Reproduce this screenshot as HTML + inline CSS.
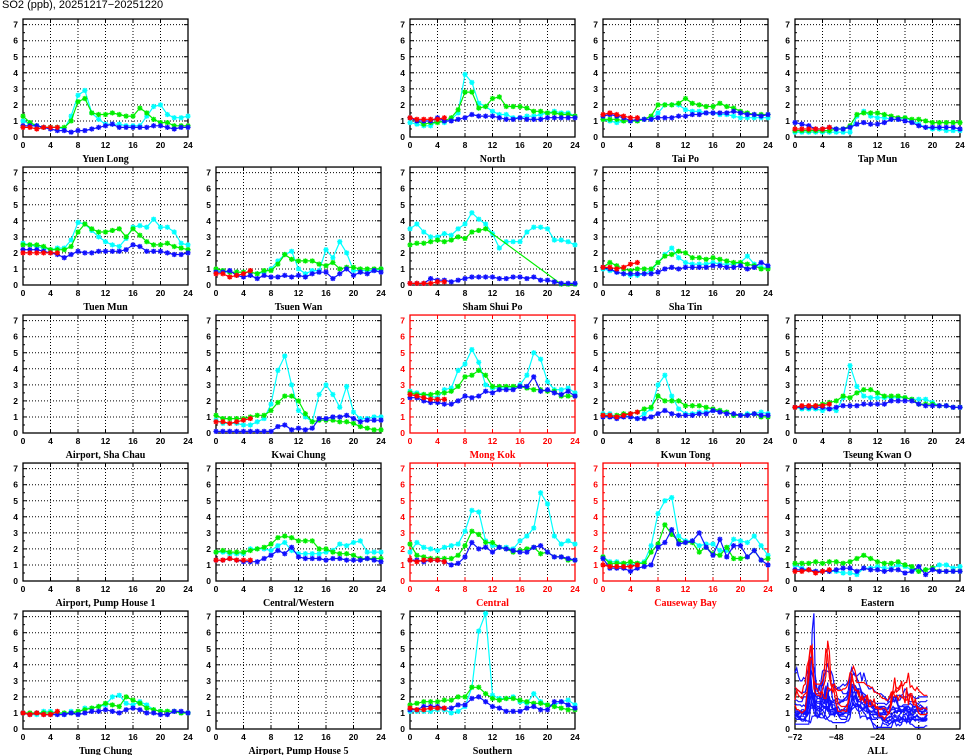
<!DOCTYPE html>
<html><head><meta charset="utf-8">
<style>
html,body{margin:0;padding:0;background:#fff;}
#wrap{position:relative;width:965px;height:755px;overflow:hidden;background:#fff;}
#title{position:absolute;left:2px;top:-1px;font:11px "Liberation Sans",sans-serif;color:#000;}
svg text{font-family:"Liberation Sans",sans-serif;}
</style></head>
<body>
<div id="wrap">
<div id="title">SO2 (ppb), 20251217&#8722;20251220</div>
<svg id="chart" width="965" height="755" xmlns="http://www.w3.org/2000/svg"></svg>
</div>
<script>
// ---- data ----
const stationNames = ["Yuen Long","North","Tai Po","Tap Mun","Tuen Mun","Tsuen Wan","Sham Shui Po","Sha Tin","Airport, Sha Chau","Kwai Chung","Mong Kok","Kwun Tong","Tseung Kwan O","Airport, Pump House 1","Central/Western","Central","Causeway Bay","Eastern","Tung Chung","Airport, Pump House 5","Southern"];
const stationRow = [0,0,0,0,1,1,1,1,2,2,2,2,2,3,3,3,3,3,4,4,4];
const stationCol = [0,2,3,4,0,1,2,3,0,1,2,3,4,0,1,2,3,4,0,1,2];
const stationAlert = [0,0,0,0,0,0,0,0,0,0,1,0,0,0,0,1,1,0,0,0,0];
const xTicks = [0,4,8,12,16,20,24];
const yTicks = [0,1,2,3,4,5,6,7];
const allXTicks = [-72,-48,-24,0,24];
const allXTickLabels = ["\u221272","\u221248","\u221224","0","24"];

const cyanSeries = [
[1.0,0.8,0.7,0.6,0.6,0.6,0.5,1.3,2.6,2.9,1.5,1.1,0.8,0.8,0.8,0.7,0.7,0.7,1.3,1.9,2.0,1.4,1.2,1.2,1.3],
[0.9,0.8,0.7,0.7,1.0,0.9,1.1,1.5,3.9,3.4,2.1,1.9,1.6,1.4,1.4,1.2,1.2,1.3,1.3,1.4,1.5,1.6,1.5,1.5,1.3],
[1.1,1.0,0.9,1.0,1.0,1.0,1.1,1.1,1.5,2.0,2.0,2.0,1.7,1.6,1.6,1.5,1.5,1.4,1.4,1.3,1.2,1.2,1.2,1.2,1.2],
[0.3,0.3,0.3,0.3,0.3,0.3,0.3,0.3,0.3,1.3,1.6,1.3,1.2,1.2,1.1,1.1,1.2,1.0,0.8,0.6,0.5,0.5,0.4,0.4,0.4],
[2.6,2.5,2.4,2.3,2.2,2.3,2.3,2.8,3.9,3.8,3.4,3.0,2.7,2.5,2.4,2.9,3.6,3.7,3.6,4.1,3.6,3.6,3.3,2.6,2.5],
[0.9,0.8,0.8,0.8,0.8,0.8,0.7,0.8,1.0,1.5,1.9,2.1,1.0,0.7,0.9,0.9,2.2,1.7,2.7,2.0,0.9,0.9,0.9,0.9,1.0],
[3.5,3.8,3.3,3.0,3.0,3.2,3.1,3.5,3.8,4.5,4.1,3.8,3.2,2.3,2.7,2.7,2.7,3.3,3.6,3.6,3.5,2.8,2.8,2.7,2.5],
[1.0,0.9,0.8,0.7,0.6,0.6,0.7,0.9,1.4,1.9,2.3,1.7,1.4,1.3,1.3,1.3,1.4,1.3,1.3,1.3,1.4,1.8,1.3,1.1,1.1],
[],
[0.8,0.6,0.6,0.6,0.5,0.5,0.7,0.9,1.8,3.9,4.8,3.0,1.4,1.0,0.7,2.4,3.0,2.4,1.6,2.9,1.3,0.9,0.9,1.0,1.0],
[2.6,2.5,2.4,2.3,2.2,2.7,2.8,3.9,4.3,5.2,4.4,3.0,2.8,2.8,2.8,2.8,3.0,3.6,5.0,4.6,3.2,2.7,2.7,2.8,2.5],
[1.2,1.2,1.0,1.1,1.0,0.9,1.2,1.5,3.0,3.6,2.3,1.5,1.2,1.2,1.3,1.3,1.4,1.4,1.3,1.1,1.1,1.2,1.2,1.3,1.2],
[1.6,1.5,1.5,1.5,1.4,1.5,1.4,2.2,4.2,2.9,2.3,2.2,2.2,2.2,2.2,2.2,2.2,2.1,2.1,2.1,1.9,1.7,1.7,1.6,1.6],
[],
[1.8,1.8,1.7,1.7,1.7,2.0,2.0,2.0,1.9,2.2,2.4,1.9,1.7,1.7,1.7,1.7,1.8,1.9,2.3,2.2,2.4,2.5,1.8,1.8,1.8],
[1.8,2.4,2.1,2.0,1.9,2.1,2.2,2.3,3.1,4.4,4.3,2.5,2.2,2.1,2.1,2.0,2.5,2.8,3.3,5.5,4.8,2.8,2.3,2.5,2.3],
[1.5,1.2,1.2,1.1,1.0,1.1,1.2,2.2,4.2,5.0,5.2,2.8,2.5,2.5,2.2,2.3,2.3,1.9,1.9,2.6,2.5,2.4,2.8,2.2,1.6],
[1.0,0.8,0.7,0.6,0.6,0.6,0.6,0.5,0.5,0.4,0.8,0.8,0.9,0.8,0.8,1.0,0.9,0.7,0.6,0.7,0.8,1.0,1.0,0.8,0.9],
[1.0,0.9,0.9,1.1,1.1,1.0,0.9,1.1,1.0,1.3,1.3,1.4,1.5,2.0,2.1,1.6,1.5,1.7,1.5,1.2,1.1,1.1,1.1,1.0,1.0],
[],
[1.1,1.1,1.1,1.1,1.2,1.2,1.0,1.1,1.4,2.6,6.1,7.2,2.1,1.9,1.9,2.0,1.7,1.6,2.2,1.7,1.5,1.5,1.7,1.8,1.5]
];
const greenSeries = [
[1.3,0.9,0.7,0.6,0.6,0.6,0.6,1.0,2.2,2.4,1.5,1.4,1.4,1.5,1.4,1.3,1.3,1.8,1.5,1.1,0.9,0.9,0.7,0.7,0.7],
[1.2,1.0,0.8,0.9,0.9,1.0,1.2,1.7,2.8,2.8,1.8,1.9,2.4,2.5,1.9,1.9,1.9,1.8,1.6,1.6,1.5,1.5,1.4,1.4,1.3],
[1.1,1.1,1.1,1.0,1.0,1.0,1.1,1.3,2.0,2.0,2.0,2.1,2.4,2.1,2.0,1.9,1.9,2.1,1.9,1.8,1.6,1.5,1.4,1.4,1.4],
[0.4,0.4,0.4,0.4,0.4,0.4,0.5,0.5,0.7,1.4,1.5,1.5,1.5,1.4,1.3,1.2,1.2,1.1,1.1,1.0,0.9,0.9,0.9,0.9,0.9],
[2.5,2.5,2.5,2.4,2.2,2.2,2.2,2.4,3.3,3.8,3.5,3.3,3.3,3.4,3.5,3.0,3.5,3.1,2.7,2.5,2.5,2.6,2.4,2.3,2.2],
[1.0,0.9,0.8,0.8,0.8,0.8,0.7,0.9,0.9,1.3,1.9,1.6,1.5,1.5,1.5,1.3,1.2,1.4,1.0,1.1,1.1,1.0,1.0,1.0,1.0],
[2.5,2.6,2.6,2.7,2.8,2.7,2.8,3.0,2.9,3.3,3.4,3.5,null,null,null,null,null,null,null,null,null,null,0.05,0.05,0.05],
[1.1,1.4,1.2,1.0,0.9,1.0,1.0,1.0,1.4,1.8,1.9,2.1,2.0,1.7,1.7,1.6,1.7,1.6,1.5,1.4,1.4,1.3,1.2,1.0,1.0],
[],
[1.1,0.9,0.9,0.9,0.9,1.0,1.1,1.1,1.4,1.9,2.3,2.3,2.0,1.2,0.7,0.8,0.8,0.8,0.7,0.7,0.6,0.4,0.3,0.2,0.2],
[2.5,2.4,2.4,2.4,2.5,2.5,2.6,2.9,3.5,3.6,3.9,3.6,2.9,2.9,2.9,2.9,2.9,2.8,2.7,2.7,2.6,2.6,2.3,2.3,2.3],
[1.1,1.0,1.1,1.2,1.2,1.3,1.5,1.6,2.3,2.0,2.0,2.0,1.7,1.7,1.7,1.6,1.5,1.4,1.3,1.1,1.1,1.1,1.2,1.0,1.0],
[1.6,1.6,1.6,1.7,1.8,1.9,2.0,2.3,2.2,2.5,2.7,2.7,2.5,2.3,2.3,2.3,2.2,2.1,1.8,1.8,1.8,1.7,1.7,1.6,1.6],
[],
[1.8,1.9,1.8,1.8,1.8,1.9,2.0,2.1,2.3,2.7,2.8,2.7,2.5,2.5,2.5,2.0,2.0,1.8,1.7,1.7,1.6,1.4,1.4,1.4,1.4],
[2.3,1.6,1.5,1.4,1.4,1.4,1.4,1.6,2.2,3.1,2.9,2.4,2.4,2.1,2.0,1.8,1.9,2.0,2.1,1.7,1.8,1.5,1.5,1.3,1.3],
[1.5,1.1,1.1,1.1,1.2,1.1,1.1,1.8,2.3,3.5,2.9,2.5,2.4,2.4,1.8,2.1,1.7,1.6,2.1,1.4,1.4,1.5,1.9,1.3,1.4],
[1.1,1.1,1.1,1.2,1.1,1.2,1.2,1.1,1.2,1.4,1.6,1.4,1.2,1.1,1.1,1.2,1.0,0.9,0.6,0.7,0.8,0.6,0.6,0.6,0.6],
[1.0,1.0,1.0,1.0,1.0,1.0,1.0,1.0,1.1,1.2,1.3,1.4,1.6,1.5,1.4,2.0,1.8,1.6,1.3,1.2,1.1,1.1,1.1,1.0,1.0],
[],
[1.5,1.6,1.7,1.7,1.7,1.8,1.8,2.0,2.0,2.6,2.6,2.2,1.9,1.8,1.9,1.9,1.8,1.7,1.6,1.6,1.5,1.4,1.3,1.2,1.2]
];
const blueSeries = [
[0.7,0.7,0.7,0.6,0.5,0.4,0.4,0.3,0.4,0.4,0.5,0.6,0.7,0.8,0.6,0.6,0.6,0.6,0.6,0.7,0.7,0.6,0.5,0.6,0.6],
[1.2,1.0,1.0,1.0,1.2,1.0,1.0,1.1,1.2,1.4,1.3,1.3,1.3,1.2,1.1,1.1,1.2,1.1,1.1,1.1,1.2,1.2,1.2,1.2,1.2],
[1.3,1.4,1.3,1.2,1.0,1.1,1.1,1.1,1.2,1.2,1.2,1.3,1.3,1.4,1.4,1.5,1.5,1.5,1.5,1.6,1.5,1.4,1.4,1.3,1.4],
[0.9,0.8,0.7,0.5,0.5,0.6,0.5,0.5,0.6,0.8,0.9,0.8,0.8,0.9,1.1,1.1,1.0,0.9,0.7,0.6,0.6,0.6,0.6,0.6,0.5],
[2.2,2.2,2.2,2.1,2.0,1.9,1.7,1.9,2.1,2.0,2.0,2.1,2.1,2.1,2.1,2.2,2.5,2.4,2.1,2.1,2.1,2.0,1.9,1.9,2.0],
[0.8,0.8,0.9,0.6,0.5,0.6,0.4,0.6,0.5,0.5,0.6,0.5,0.6,0.5,0.7,0.8,0.8,0.4,0.7,1.0,0.6,0.8,0.7,0.9,0.8],
[0.1,0.1,0.1,0.4,0.3,0.3,0.2,0.3,0.4,0.5,0.5,0.5,0.5,0.4,0.4,0.5,0.5,0.4,0.5,0.3,0.3,0.2,0.1,0.1,0.1],
[1.1,1.0,0.8,0.7,0.7,0.7,0.7,0.7,0.8,1.0,1.1,1.0,1.1,1.1,1.1,1.1,1.2,1.2,1.1,1.1,1.2,1.0,1.1,1.4,1.2],
[],
[0.1,0.1,0.1,0.1,0.1,0.1,0.1,0.1,0.1,0.4,0.5,0.2,0.3,0.2,0.3,0.9,0.9,1.0,1.0,1.1,0.9,0.7,0.8,0.8,0.8],
[2.2,2.2,2.0,1.9,1.9,1.8,1.8,2.0,2.3,2.2,2.3,2.6,2.5,2.7,2.7,2.7,2.9,2.9,3.5,2.6,2.7,2.5,2.4,2.6,2.3],
[1.0,1.0,0.9,1.0,1.0,0.9,0.9,1.0,1.2,1.4,1.2,1.1,1.1,1.1,1.2,1.2,1.4,1.3,1.2,1.2,1.1,1.1,1.2,1.1,1.1],
[1.6,1.6,1.6,1.6,1.6,1.5,1.6,1.7,1.7,1.7,1.8,1.8,1.8,1.8,2.0,2.0,2.0,2.0,1.8,1.7,1.7,1.7,1.7,1.6,1.6],
[],
[1.3,1.3,1.4,1.3,1.2,1.2,1.2,1.4,1.6,1.9,1.7,2.1,1.5,1.4,1.4,1.4,1.3,1.4,1.4,1.3,1.3,1.3,1.4,1.3,1.2],
[1.3,1.3,1.2,1.3,1.3,1.2,1.0,1.1,1.5,2.4,2.0,2.1,1.8,2.1,2.0,1.9,1.8,1.8,2.1,2.2,1.8,1.5,1.5,1.4,1.3],
[1.4,0.8,0.8,0.8,0.6,0.8,0.9,1.0,2.1,2.4,3.2,2.3,2.4,2.5,3.0,2.1,1.6,2.6,1.5,2.2,2.2,1.5,1.9,1.3,1.0],
[0.7,0.7,0.7,0.6,0.6,0.6,0.7,0.8,0.8,0.6,0.8,0.7,0.7,0.6,0.7,0.7,0.5,0.6,0.9,0.4,0.7,0.6,0.6,0.6,0.6],
[1.0,0.9,1.0,0.9,0.9,0.9,0.9,1.0,0.9,1.0,1.1,1.1,1.2,1.1,1.0,1.2,1.3,1.2,1.0,1.0,0.9,0.9,1.1,1.1,1.0],
[],
[1.2,1.2,1.4,1.4,1.4,1.3,1.3,1.5,1.5,1.9,2.0,1.7,1.4,1.3,1.1,1.1,1.1,1.3,1.4,1.2,1.2,1.7,1.7,1.5,1.3]
];
const redSeries = [
[0.6,0.6,0.5,0.6,0.6,0.6],
[1.2,1.1,1.1,1.1,1.1,1.2],
[1.4,1.5,1.4,1.3,1.2,1.2],
[0.5,0.5,0.5,0.5,0.5,0.6],
[2.0,2.0,2.0,2.0,2.0,2.0],
[0.7,0.7,0.5,0.6,0.7,0.9],
[0.1,0.1,0.1,0.1,0.2,0.2],
[1.1,1.1,1.0,1.1,1.3,1.4],
[],
[0.7,0.7,0.6,0.7,0.8,0.9],
[2.4,2.3,2.2,2.1,2.1,2.1],
[1.1,1.1,1.0,1.1,1.2,1.3],
[1.6,1.7,1.7,1.7,1.7,1.8],
[],
[1.3,1.3,1.4,1.3,1.3,1.3],
[1.3,1.2,1.3,1.3,1.3,1.2],
[1.0,0.9,0.9,0.9,0.9,1.0],
[0.6,0.6,0.7,0.5,0.6,0.7],
[1.0,0.9,1.0,0.9,0.9,1.1],
[],
[1.3,1.2,1.2,1.3,1.3,1.3]
];

// ---- layout ----
const NS = "http://www.w3.org/2000/svg";
const svg = document.getElementById("chart");
const colX = [23,216,410,603,795];
const rowZero = [137,285,433,581,729];
const PW = 165, YS = 16.05, YMAX = 7.35;
const C_CYAN = "#00ffff", C_GREEN = "#00ee00", C_BLUE = "#1010ff", C_RED = "#ff0000";

function mk(tag, attrs, parent) {
  const e = document.createElementNS(NS, tag);
  for (const k in attrs) e.setAttribute(k, attrs[k]);
  (parent || svg).appendChild(e);
  return e;
}

function drawFrame(row, col, xmin, xmax, xticks, xlabels, name, alert) {
  const g = mk("g", {});
  
  
  const x0 = colX[col], y0 = rowZero[row], top = y0 - YMAX * YS;
  const fc = alert ? C_RED : "#000";
  const sx = v => x0 + (v - xmin) / (xmax - xmin) * PW;
  const sy = v => y0 - v * YS;
  for (let i = 1; i < xticks.length - 1; i++) {
    const gl = mk("line", {x1: sx(xticks[i]), x2: sx(xticks[i]), y1: top, y2: y0, stroke: "#000", "stroke-width": 1, "stroke-dasharray": "1,2"}, g);
    
    
  }
  for (let i = 1; i < yTicks.length; i++) {
    const gl = mk("line", {x1: x0, x2: x0 + PW, y1: sy(yTicks[i]), y2: sy(yTicks[i]), stroke: "#000", "stroke-width": 1, "stroke-dasharray": "1,2"}, g);
    
    
  }
  for (let i = 0; i < xticks.length; i++) {
    const xx = sx(xticks[i]);
    mk("line", {x1: xx, x2: xx, y1: y0, y2: y0 - 4, stroke: fc}, g);
    mk("line", {x1: xx, x2: xx, y1: top, y2: top + 4, stroke: fc}, g);
    const t = mk("text", {x: xx, y: y0 + 11, "text-anchor": "middle", "font-size": "8.5", "font-weight": "bold", fill: fc}, g);
    t.textContent = xlabels[i];
    
    
  }
  for (let i = 0; i < yTicks.length; i++) {
    const yy = sy(yTicks[i]);
    mk("line", {x1: x0, x2: x0 + 4, y1: yy, y2: yy, stroke: fc}, g);
    mk("line", {x1: x0 + PW, x2: x0 + PW - 4, y1: yy, y2: yy, stroke: fc}, g);
    if (i < yTicks.length - 1) {
      const ym = sy(yTicks[i] + 0.5);
      mk("line", {x1: x0, x2: x0 + 2, y1: ym, y2: ym, stroke: fc}, g);
    }
    const t = mk("text", {x: x0 - 5, y: yy + 3, "text-anchor": "end", "font-size": "8.5", "font-weight": "bold", fill: fc}, g);
    t.textContent = yTicks[i];
    
    
  }
  const fr = mk("rect", {x: x0, y: top, width: PW, height: y0 - top, fill: "none", stroke: fc, "stroke-width": 1.3}, g);
  
  
  const lbl = mk("text", {x: x0 + PW / 2, y: y0 + 25, "text-anchor": "middle", fill: fc, style: "font-family:'Liberation Serif',serif;font-size:10px;font-weight:bold;"}, g);
  lbl.textContent = name;
  
  
  return {g, sx, sy};
}

function drawSeries(p, xs, vals, color, markers, sname) {
  const pts = [];
  for (let i = 0; i < vals.length; i++) if (vals[i] !== null && vals[i] !== undefined) pts.push([p.sx(xs[i]), p.sy(vals[i])]);
  if (!pts.length) return;
  const line = mk("polyline", {points: pts.map(q => q[0].toFixed(1) + "," + q[1].toFixed(1)).join(" "), fill: "none", stroke: color, "stroke-width": 1.2}, p.g);
  
  
  if (markers) {
    let d = "";
    const r = 2.6;
    for (const [x, y] of pts) {
      d += `M${x - r},${y}H${x + r}M${x},${y - r}V${y + r}M${x - r * 0.75},${y - r * 0.75}L${x + r * 0.75},${y + r * 0.75}M${x - r * 0.75},${y + r * 0.75}L${x + r * 0.75},${y - r * 0.75}`;
    }
    const m = mk("path", {d, stroke: color, "stroke-width": 1.3, fill: "none"}, p.g);
    
    
  }
}

const hours25 = Array.from({length: 25}, (_, i) => i);
for (let s = 0; s < stationNames.length; s++) {
  const p = drawFrame(stationRow[s], stationCol[s], 0, 24, xTicks, xTicks.map(String), stationNames[s], stationAlert[s]);
  drawSeries(p, hours25, cyanSeries[s], C_CYAN, true, 'series-day1-cyan');
  drawSeries(p, hours25, greenSeries[s], C_GREEN, true, 'series-day2-green');
  drawSeries(p, hours25, blueSeries[s], C_BLUE, true, 'series-day3-blue');
  drawSeries(p, hours25, redSeries[s], C_RED, true, 'series-today-red');
}

const pAll = drawFrame(4, 4, -72, 24, allXTicks, allXTickLabels, "ALL", 0);
const order = [];
for (let s = 0; s < stationNames.length; s++) if (!stationAlert[s]) order.push(s);
for (let s = 0; s < stationNames.length; s++) if (stationAlert[s]) order.push(s);
for (const s of order) {
  if (!cyanSeries[s].length) continue;
  const vals = [], xs = [];
  const parts = [cyanSeries[s].slice(0, 24), greenSeries[s].slice(0, 24), blueSeries[s].slice(0, 24), redSeries[s]];
  let h = -72;
  for (const part of parts) for (const v of part) { xs.push(h); vals.push(v); h++; }
  drawSeries(pAll, xs, vals, stationAlert[s] ? C_RED : C_BLUE, false, 'all-series-line');
}
</script>
</body></html>
